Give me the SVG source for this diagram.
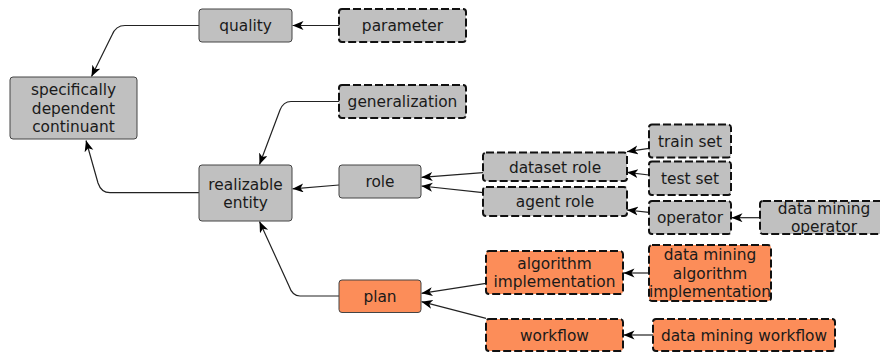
<svg xmlns="http://www.w3.org/2000/svg" width="880" height="356" viewBox="0 0 880 356">
<defs>
<style>
.n{fill:#c0c0c0;stroke:#444;stroke-width:1}
.d{fill:#c0c0c0;stroke:#111;stroke-width:2;stroke-dasharray:8,3}
.o{fill:#fc8d59;stroke:#444;stroke-width:1}
.od{fill:#fc8d59;stroke:#111;stroke-width:2;stroke-dasharray:8,3}
text{font-family:"DejaVu Sans",sans-serif;font-size:15.4px;fill:#1a1a1a;text-anchor:middle}
.e path{fill:none;stroke:#222;stroke-width:1.2;marker-end:url(#a)}
</style>
<marker id="a" markerUnits="userSpaceOnUse" markerWidth="12" markerHeight="10" refX="11" refY="4.5" orient="auto" viewBox="0 0 12 10">
<path d="M0,0 L11,4.5 L0,9 L3,4.5 z" fill="#000"/>
</marker>
<clipPath id="c1"><rect x="649" y="245" width="122" height="56"/></clipPath>
<clipPath id="c2"><rect x="760" y="201" width="128" height="33"/></clipPath>
</defs>
<g class="e" id="connectors">
<path d="M199,25.5 L125,25.5 C118,25.5 114,30 112,35 L91.5,76.5"/>
<path d="M339,25.5 L292.5,25.5"/>
<path d="M339,101.5 L291,101.5 C285,101.5 282,105 280,110 L259.5,164.5"/>
<path d="M339,185 L292.5,188.8"/>
<path d="M483,172.7 L421.5,177.3"/>
<path d="M483,192.7 L421.5,186"/>
<path d="M649,148.3 L627,151.7"/>
<path d="M649,175 L627,172.3"/>
<path d="M649,212.3 L627,210"/>
<path d="M760,217.7 L731.5,217.7"/>
<path d="M486,283.3 L421.5,293.3"/>
<path d="M486,318.3 L421.5,301.7"/>
<path d="M649,273 L623.5,273"/>
<path d="M653,335 L623.5,335"/>
<path d="M199,192.7 L110,192.7 C103,192.7 100,189 98,183 L86,140.5"/>
<path d="M339,296 L300,296 C294,296 291,292 289,286 L259.5,221.5"/>
</g>
<g id="sdc"><rect class="n" x="10" y="77" width="127" height="62" rx="3"/><text x="73.5" y="95">specifically</text><text x="73.5" y="113.5">dependent</text><text x="73.5" y="132">continuant</text></g>
<g id="quality"><rect class="n" x="199" y="9" width="93" height="33" rx="3"/><text x="245.5" y="31">quality</text></g>
<g id="parameter"><rect class="d" x="339" y="9" width="127" height="33" rx="3"/><text x="402.5" y="31">parameter</text></g>
<g id="generalization"><rect class="d" x="339" y="85" width="127" height="33" rx="3"/><text x="402.5" y="107">generalization</text></g>
<g id="realizable"><rect class="n" x="199" y="165" width="93" height="56" rx="3"/><text x="245.5" y="189.5">realizable</text><text x="245.5" y="208">entity</text></g>
<g id="role"><rect class="n" x="339" y="165" width="82" height="33" rx="3"/><text x="380" y="187">role</text></g>
<g id="datasetrole"><rect class="d" x="483" y="152.5" width="144" height="28.5" rx="3"/><text x="555" y="172.5">dataset role</text></g>
<g id="agentrole"><rect class="d" x="483" y="187" width="144" height="29" rx="3"/><text x="555" y="207">agent role</text></g>
<g id="trainset"><rect class="d" x="649" y="124.5" width="82" height="33" rx="3"/><text x="690" y="146.5">train set</text></g>
<g id="testset"><rect class="d" x="649" y="161.5" width="82" height="33.5" rx="3"/><text x="690" y="183.5">test set</text></g>
<g id="operator"><rect class="d" x="649" y="201" width="82" height="33" rx="3"/><text x="690" y="223">operator</text></g>
<g id="dmoperator"><rect x="760" y="201" width="128" height="33" rx="3" fill="#c0c0c0"/><g clip-path="url(#c2)"><text x="824" y="214">data mining</text><text x="824" y="232.3">operator</text></g><rect x="760" y="201" width="128" height="33" rx="3" fill="none" stroke="#111" stroke-width="2" stroke-dasharray="8,3"/></g>
<g id="plan"><rect class="o" x="339" y="280" width="82" height="32.5" rx="3"/><text x="380" y="302">plan</text></g>
<g id="algoimpl"><rect class="od" x="486" y="251" width="137" height="43" rx="3"/><text x="554.5" y="268.8">algorithm</text><text x="554.5" y="287.3">implementation</text></g>
<g id="workflow"><rect class="od" x="486" y="319" width="137" height="32" rx="3"/><text x="554.5" y="340.5">workflow</text></g>
<g id="dmalgoimpl"><rect x="649" y="245" width="122" height="56" rx="3" fill="#fc8d59"/><g clip-path="url(#c1)"><text x="710" y="260">data mining</text><text x="710" y="278.5">algorithm</text><text x="710" y="297">implementation</text></g><rect x="649" y="245" width="122" height="56" rx="3" fill="none" stroke="#111" stroke-width="2" stroke-dasharray="8,3"/></g>
<g id="dmworkflow"><rect class="od" x="653" y="319" width="182" height="32" rx="3"/><text x="744" y="340.5">data mining workflow</text></g>
</svg>
